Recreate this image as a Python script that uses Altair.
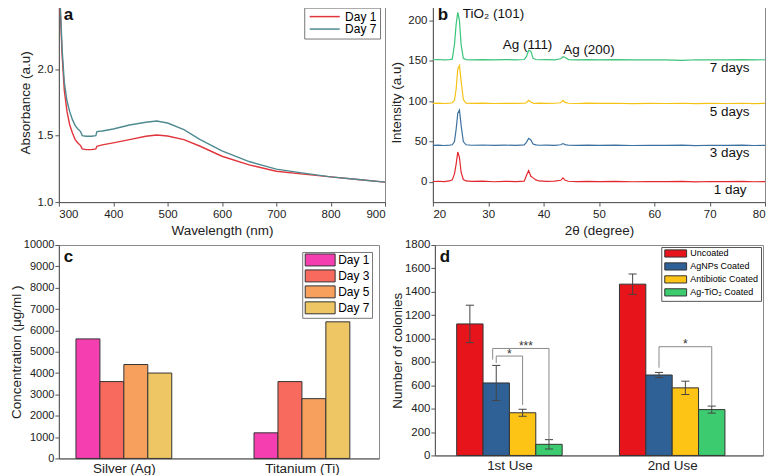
import altair as alt
import pandas as pd

FONT = "Liberation Sans"

# ---------------- Panel a: UV-vis absorbance ----------------
uv_wavelength = [300, 303, 306, 310, 315, 320, 325, 330, 335, 340, 343, 350, 360, 368, 370,
                 380, 400, 430, 460, 480, 500, 530, 560, 600, 650, 700, 750, 800, 850, 900]
uv_day1 = [2.60, 2.40, 2.10, 1.84, 1.68, 1.58, 1.52, 1.47, 1.445, 1.425, 1.40, 1.395, 1.395, 1.40, 1.42,
           1.43, 1.445, 1.47, 1.495, 1.505, 1.497, 1.47, 1.42, 1.345, 1.28, 1.232, 1.21, 1.19, 1.17, 1.15]
uv_day7 = [2.60, 2.45, 2.15, 1.90, 1.76, 1.68, 1.62, 1.575, 1.55, 1.53, 1.50, 1.495, 1.495, 1.50, 1.53,
           1.535, 1.55, 1.58, 1.60, 1.61, 1.595, 1.545, 1.47, 1.385, 1.305, 1.248, 1.218, 1.19, 1.17, 1.15]
uv_series = ["Day 1", "Day 7"]
uv_colors = ["#e0363c", "#4f8a90"]

# ---------------- Panel b: XRD ----------------
xrd_2theta = [20, 21, 22, 23, 23.5, 23.9, 24.2, 24.5, 24.8, 25.1, 25.5, 26, 27, 29, 31, 33, 35,
              36.5, 36.9, 37.3, 37.7, 38.1, 38.6, 39.2, 40.5, 42, 43.1, 43.5, 43.9, 44.5, 46, 48,
              50, 53, 56, 59, 62, 65, 67.5, 70, 73, 76, 78, 80]
xrd_1day = [0.5, 0.8, 0.3, 1.2, 2.5, 10, 22, 37, 30, 12, 3, 1.2, 0.6, 0.9, 0.2, 0.7, 0.4,
            1.0, 8, 14, 7, 5, 2.5, 1.2, 0.6, 0.9, 2.0, 5.0, 2.0, 0.8, 0.4, 0.7,
            0.3, 0.6, 0.2, 0.5, 0.3, 0.6, 0.1, 0.5, 0.3, 0.6, 0.2, 0.4]
xrd_3days = [45.3, 45.6, 45.1, 45.5, 46.0, 50, 65, 85, 89, 70, 50, 46.0, 45.4, 45.7, 45.2, 45.5, 45.3,
             45.8, 49, 54, 52, 47, 45.8, 45.4, 45.6, 45.3, 46.0, 47.5, 46.2, 45.4, 45.2, 45.6,
             45.3, 45.5, 45.1, 45.4, 45.2, 45.5, 45.0, 45.4, 45.2, 45.5, 45.1, 45.3]
xrd_5days = [97.3, 97.6, 97.1, 97.5, 98.0, 101, 115, 140, 144, 125, 102, 97.6, 97.2, 97.5, 97.1, 97.4, 97.2,
             97.5, 98.0, 101, 99, 97.6, 97.3, 97.5, 97.2, 97.4, 98.0, 101, 98.5, 97.4, 97.1, 97.5,
             97.2, 97.4, 97.0, 97.3, 97.1, 97.4, 97.0, 97.3, 97.1, 97.4, 97.0, 97.3]
xrd_7days = [151.3, 151.6, 151.1, 151.5, 152.0, 170, 195, 210, 200, 170, 153, 151.5, 151.2, 151.5, 151.1, 151.4, 151.2,
             151.6, 155, 163, 162, 153, 151.6, 151.3, 151.5, 151.2, 152.5, 155, 154, 151.5, 151.2, 151.5,
             151.1, 151.4, 151.0, 151.3, 151.1, 150.6, 151.3, 151.0, 151.2, 151.4, 151.0, 151.3]
xrd_series = ["1 day", "3 days", "5 days", "7 days"]
xrd_colors = ["#e2282e", "#3d71a0", "#f5c216", "#3cc47a"]
xrd_labels = ["TiO\u2082 (101)", "Ag (111)", "Ag (200)", "7 days", "5 days", "3 days", "1 day"]
xrd_label_x = [25.4, 37.1, 48.2, 73.6, 73.6, 73.6, 73.7]
xrd_label_y = [208, 170, 163, 141, 86, 36, -10]
xrd_label_align = ["left", "center", "center", "center", "center", "center", "center"]

# ---------------- Panel c: ion release ----------------
elements = ["Silver (Ag)", "Titanium (Ti)"]
c_days = ["Day 1", "Day 3", "Day 5", "Day 7"]
c_colors = ["#f53fb0", "#f86a5e", "#f7a05d", "#eec663"]
conc_silver = [5600, 3600, 4400, 4000]
conc_titanium = [1200, 3600, 2800, 6400]

# ---------------- Panel d: colonies ----------------
uses = ["1st Use", "2nd Use"]
coatings = ["Uncoated", "AgNPs Coated", "Antibiotic Coated", "Ag-TiO\u2082 Coated"]
d_colors = ["#e8141b", "#2f6196", "#fdc315", "#3ccc6f"]
colonies_1st = [1125, 620, 365, 95]
colonies_2nd = [1465, 688, 578, 392]
err_1st = [160, 150, 30, 40]
err_2nd = [87, 22, 57, 30]
# significance brackets: use index, coating index of left and right legs, leg bottoms, bar height
brk_use = [0, 0, 1]
brk_left = [1, 1, 1]
brk_right = [2, 3, 3]
brk_left_y = [790, 820, 750]
brk_top_y = [850, 915, 930]
brk_right_y = [432, 138, 422]
star_text = ["*", "***", "*"]
star_y = [868, 935, 950]

# ================= layout helpers (group/bar positions on a numeric axis) =================
BW_C = 0.1345   # bar width in group units, panel c
BW_D = 0.162    # bar width in group units, panel d


def center(g, s, bw):
    return g + (s - 1.5) * bw


# ================= build data frames =================
df_a = pd.DataFrame({
    "wl": uv_wavelength * 2,
    "abs": uv_day1 + uv_day7,
    "day_a": ["Day 1"] * len(uv_wavelength) + ["Day 7"] * len(uv_wavelength),
})
df_b = pd.DataFrame({
    "tt": xrd_2theta * 4,
    "inten": xrd_1day + xrd_3days + xrd_5days + xrd_7days,
    "curve_b": sum([[s] * len(xrd_2theta) for s in xrd_series], []),
})
df_b_lab = pd.DataFrame({"tt": xrd_label_x, "inten": xrd_label_y, "txt": xrd_labels, "al": xrd_label_align})

rows = []
for g, vals in enumerate([conc_silver, conc_titanium]):
    for s, v in enumerate(vals):
        cx = center(g, s, BW_C)
        rows.append({"elem": elements[g], "day_c": c_days[s], "conc": v, "base": 0,
                     "x0": cx - BW_C / 2, "x1": cx + BW_C / 2})
df_c = pd.DataFrame(rows)

rows = []
for g, (vals, errs) in enumerate([(colonies_1st, err_1st), (colonies_2nd, err_2nd)]):
    for s, (v, e) in enumerate(zip(vals, errs)):
        cx = center(g, s, BW_D)
        rows.append({"use": uses[g], "coating": coatings[s], "colonies": v, "lo": v - e, "hi": v + e,
                     "base": 0, "xc": cx, "x0": cx - BW_D / 2, "x1": cx + BW_D / 2,
                     "c0": cx - 0.025, "c1": cx + 0.025})
df_d = pd.DataFrame(rows)

rows = []
for i in range(len(brk_use)):
    g = brk_use[i]
    xl = center(g, brk_left[i], BW_D) - (0.022 if i == 1 else 0)
    xr = center(g, brk_right[i], BW_D)
    pts = [(xl, brk_left_y[i]), (xl, brk_top_y[i]), (xr, brk_top_y[i]), (xr, brk_right_y[i])]
    for k, (px, py) in enumerate(pts):
        rows.append({"bracket": i, "step": k, "bx": px, "by": py})
df_brk = pd.DataFrame(rows)
star_x = [g + 0.0 if i == 0 else center(brk_use[i], 2, BW_D) + (0.02 if i == 1 else 0)
          for i, g in enumerate(brk_use)]
df_star = pd.DataFrame({"txt": star_text, "sx": star_x, "sy": star_y})


def letter(ch):
    return alt.Chart(pd.DataFrame({"t": [ch]})).mark_text(
        font=FONT, fontSize=17, fontWeight="bold", align="left", baseline="top", color="#111"
    ).encode(text="t:N", x=alt.value(5), y=alt.value(4))


# ---------------- Panel a chart ----------------
a_lines = alt.Chart(df_a).mark_line(strokeWidth=1.4, clip=True).encode(
    x=alt.X("wl:Q", scale=alt.Scale(domain=[300, 900], nice=False),
            axis=alt.Axis(title="Wavelength (nm)", values=list(range(300, 901, 100)))),
    y=alt.Y("abs:Q", scale=alt.Scale(domain=[1.0, 2.5], nice=False),
            axis=alt.Axis(title="Absorbance (a.u)", values=[1.0, 1.5, 2.0, 2.5], format=".1f")),
    color=alt.Color("day_a:N", scale=alt.Scale(domain=uv_series, range=uv_colors),
                    legend=alt.Legend(title=None, orient="top-right", offset=5, strokeColor="#777",
                                      fillColor="white", padding=3, symbolType="M-1,0H7.6",
                                      symbolSize=49, symbolStrokeWidth=1.5, labelFontSize=12,
                                      labelOffset=26, labelFont=FONT, rowPadding=0.5)),
)
panel_a = alt.layer(a_lines, letter("a")).properties(width=327, height=200)

# ---------------- Panel b chart ----------------
b_lines = alt.Chart(df_b).mark_line(strokeWidth=1.2).encode(
    x=alt.X("tt:Q", scale=alt.Scale(domain=[20, 80], nice=False),
            axis=alt.Axis(title="2\u03b8 (degree)", values=list(range(20, 81, 10)))),
    y=alt.Y("inten:Q", scale=alt.Scale(domain=[-25, 222], nice=False),
            axis=alt.Axis(title="Intensity (a.u)", values=[0, 50, 100, 150, 200])),
    color=alt.Color("curve_b:N", scale=alt.Scale(domain=xrd_series, range=xrd_colors), legend=None),
    detail="curve_b:N",
)
b_text_left = alt.Chart(df_b_lab[df_b_lab["al"] == "left"]).mark_text(
    font=FONT, fontSize=13.5, align="left", baseline="middle", color="#111"
).encode(x="tt:Q", y="inten:Q", text="txt:N")
b_text_center = alt.Chart(df_b_lab[df_b_lab["al"] == "center"]).mark_text(
    font=FONT, fontSize=13.5, align="center", baseline="middle", color="#111"
).encode(x="tt:Q", y="inten:Q", text="txt:N")
panel_b = alt.layer(b_lines, b_text_left, b_text_center, letter("b")).properties(width=333, height=200)

# ---------------- Panel c chart ----------------
c_label_expr = "['" + "','".join(elements) + "'][datum.value]"
c_bars = alt.Chart(df_c).mark_bar(stroke="#333", strokeWidth=1).encode(
    x=alt.X("x0:Q", scale=alt.Scale(domain=[-0.365, 1.433], nice=False, zero=False),
            axis=alt.Axis(title=None, values=[0, 1], labelExpr=c_label_expr, ticks=False,
                          labelFontSize=13.5, labelPadding=3)),
    x2="x1:Q",
    y=alt.Y("conc:Q", scale=alt.Scale(domain=[0, 10000], nice=False),
            axis=alt.Axis(title="Concentration (\u03bcg/ml )", values=list(range(0, 10001, 1000)),
                          format="d", titlePadding=0, labelPadding=1, labelFontSize=11)),
    y2="base:Q",
    color=alt.Color("day_c:N", sort=c_days, scale=alt.Scale(domain=c_days, range=c_colors),
                    legend=alt.Legend(title=None, orient="top-right", offset=7, strokeColor="#777",
                                      fillColor="white", padding=2, symbolType="M-1,-1.2H5V1.2H-1Z",
                                      symbolSize=100, symbolStrokeColor="#333", symbolStrokeWidth=1,
                                      labelFontSize=12, labelOffset=22, labelFont=FONT, rowPadding=0)),
)
panel_c = alt.layer(c_bars, letter("c")).properties(width=321, height=214)

# ---------------- Panel d chart ----------------
d_label_expr = "['" + "','".join(uses) + "'][datum.value]"
xd_scale = alt.Scale(domain=[-0.458, 1.558], nice=False, zero=False)
yd_scale = alt.Scale(domain=[0, 1800], nice=False)
xd_axis = alt.Axis(title=None, values=[0, 1], labelExpr=d_label_expr, ticks=False,
                   labelFontSize=13.5, labelPadding=3)
yd_axis = alt.Axis(title="Number of colonies", values=list(range(0, 1801, 200)),
                   format="d", titlePadding=0, labelPadding=1)


def xd(field):
    return alt.X(field, scale=xd_scale, axis=xd_axis)


def yd(field):
    return alt.Y(field, scale=yd_scale, axis=yd_axis)


d_bars = alt.Chart(df_d).mark_bar(stroke="#333", strokeWidth=1).encode(
    x=xd("x0:Q"), x2="x1:Q", y=yd("colonies:Q"), y2="base:Q",
    color=alt.Color("coating:N", sort=coatings, scale=alt.Scale(domain=coatings, range=d_colors),
                    legend=alt.Legend(title=None, orient="top-right", offset=2, strokeColor="#555",
                                      fillColor="white", padding=2, symbolType="M-1,-1.2H6.3V1.2H-1Z",
                                      symbolSize=36, symbolStrokeColor="#333", symbolStrokeWidth=1,
                                      labelFontSize=9, labelOffset=18, labelFont=FONT, rowPadding=0)),
)
d_err = alt.Chart(df_d).mark_rule(color="#444", strokeWidth=1).encode(
    x=xd("xc:Q"), y=yd("lo:Q"), y2="hi:Q")
d_cap_lo = alt.Chart(df_d).mark_rule(color="#444", strokeWidth=1).encode(
    x=xd("c0:Q"), x2="c1:Q", y=yd("lo:Q"))
d_cap_hi = alt.Chart(df_d).mark_rule(color="#444", strokeWidth=1).encode(
    x=xd("c0:Q"), x2="c1:Q", y=yd("hi:Q"))
d_brk = alt.Chart(df_brk).mark_line(color="#8a8a8a", strokeWidth=1).encode(
    x=xd("bx:Q"), y=yd("by:Q"), detail="bracket:N", order="step:Q")
d_star = alt.Chart(df_star).mark_text(font=FONT, fontSize=12, color="#333", baseline="middle").encode(
    x=xd("sx:Q"), y=yd("sy:Q"), text="txt:N")
panel_d = alt.layer(d_bars, d_err, d_cap_lo, d_cap_hi, d_brk, d_star, letter("d")).properties(width=329, height=211)

chart = alt.concat(panel_a, panel_b, panel_c, panel_d, columns=2, align="none",
                   spacing=alt.RowColnumber(row=0, column=3)).resolve_scale(
    color="independent", x="independent", y="independent").properties(
    padding={"left": 0, "top": -13, "right": 0, "bottom": 0}
).configure_view(stroke="#8a8a8a", strokeWidth=1).configure_axis(
    labelFont=FONT, titleFont=FONT, labelFontSize=11.5, titleFontSize=13.5, titleFontWeight="normal",
    labelColor="#222", titleColor="#222", domainColor="#555", tickColor="#555", grid=False, tickSize=4,
    titlePadding=4, labelOverlap=False
).configure_text(font=FONT)

chart.save("out.html", embed_options={"renderer": "svg", "actions": False})
